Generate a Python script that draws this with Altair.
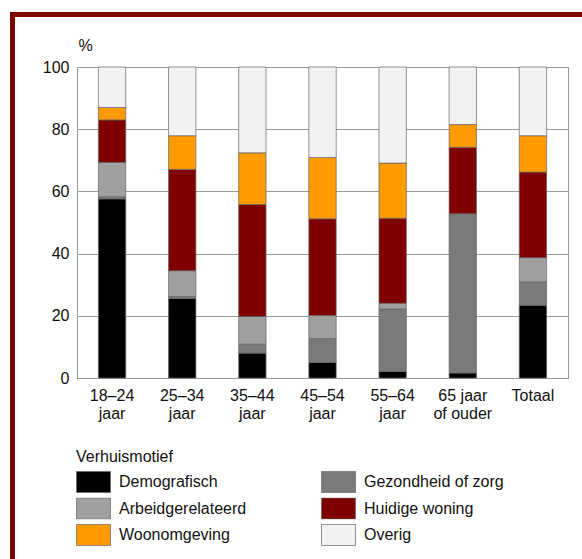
import altair as alt
import pandas as pd

categories = ["18–24 jaar", "25–34 jaar", "35–44 jaar", "45–54 jaar",
              "55–64 jaar", "65 jaar of ouder", "Totaal"]
motives = ["Demografisch", "Gezondheid of zorg", "Arbeidgerelateerd",
           "Huidige woning", "Woonomgeving", "Overig"]
colors = ["#000000", "#7a7a7a", "#a0a0a0", "#800000", "#ff9a00", "#f2f2f2"]
# legend reads column by column
legend_order = ["Demografisch", "Arbeidgerelateerd", "Woonomgeving",
                "Gezondheid of zorg", "Huidige woning", "Overig"]

demografisch = [57.6, 25.6, 8.0, 5.0, 2.1, 1.6, 23.4]
gezondheid = [0.7, 0.6, 2.9, 7.7, 20.1, 51.0, 7.5]
arbeid = [11.0, 8.3, 8.9, 7.4, 1.8, 0.2, 7.8]
huidige_woning = [13.7, 32.6, 36.0, 31.1, 27.4, 21.4, 27.5]
woonomgeving = [4.0, 10.8, 16.6, 19.7, 17.7, 7.3, 11.7]
overig = [13.0, 22.1, 27.6, 29.1, 30.9, 18.5, 22.1]

series = [demografisch, gezondheid, arbeid, huidige_woning, woonomgeving, overig]

rows = []
for i, (m, vals) in enumerate(zip(motives, series)):
    for c, v in zip(categories, vals):
        rows.append({"leeftijd": c, "motief": m, "idx": i, "pct": v})
df = pd.DataFrame(rows)

color_of = dict(zip(motives, colors))
legend_colors = [color_of[m] for m in legend_order]

FONT = "Liberation Sans"

bars = alt.Chart(df).mark_bar(stroke="#666666", strokeWidth=0.7).encode(
    x=alt.X("leeftijd:N", sort=categories,
            scale=alt.Scale(paddingInner=0.61, paddingOuter=0.305),
            axis=alt.Axis(title=None, labelAngle=0, ticks=False, grid=False,
                          labelExpr="datum.label == '65 jaar of ouder' ? ['65 jaar', 'of ouder'] : split(datum.label, ' ')",
                          labelFontSize=16, labelPadding=9, labelBaseline="top",
                          labelLineHeight=18, labelColor="#111111", labelFont=FONT,
                          domainColor="#9a9a9a")),
    y=alt.Y("pct:Q", stack="zero", scale=alt.Scale(domain=[0, 100]),
            axis=alt.Axis(title="%", titleAngle=0, titleX=1, titleY=-17,
                          titleAlign="left", titleBaseline="alphabetic",
                          titleFontWeight="normal", titleFontSize=16, titleFont=FONT,
                          titleColor="#111111",
                          values=[0, 20, 40, 60, 80, 100], ticks=False,
                          labelPadding=8, labelFontSize=16, labelFont=FONT,
                          labelColor="#111111",
                          gridColor="#9a9a9a", gridWidth=1, domainColor="#9a9a9a")),
    color=alt.Color("motief:N", sort=legend_order,
                    scale=alt.Scale(domain=legend_order, range=legend_colors),
                    legend=alt.Legend(title="Verhuismotief", orient="none",
                                      legendX=-1, legendY=382, columns=2,
                                      columnPadding=74, rowPadding=4.5,
                                      clipHeight=22,
                                      symbolType="M-1,-0.62L1,-0.62L1,0.62L-1,0.62Z",
                                      symbolSize=1156, symbolStrokeColor="#666666",
                                      symbolStrokeWidth=0.7, symbolOpacity=1,
                                      labelFontSize=16, labelFont=FONT, labelOffset=8,
                                      labelColor="#111111", labelLimit=300,
                                      titleFontSize=16, titleFont=FONT,
                                      titleFontWeight="normal", titleColor="#111111",
                                      titlePadding=6, padding=0)),
    order=alt.Order("idx:Q", sort="ascending"),
)

frame = alt.Chart(alt.Data(values=[{}])).mark_rect(
    fill=None, fillOpacity=0, stroke="#800000", strokeWidth=5
).encode(
    x=alt.value(-64.5), x2=alt.value(700),
    y=alt.value(-52.5), y2=alt.value(700),
)

chart = alt.layer(bars, frame).properties(
    width=491, height=311,
    autosize=alt.AutoSizeParams(type="none"),
    padding={"left": 77, "top": 67, "right": 14, "bottom": 181},
    background="white",
).configure_view(stroke="#9a9a9a", strokeWidth=1)

chart.save("out.html", embed_options={"renderer": "svg", "actions": False})
